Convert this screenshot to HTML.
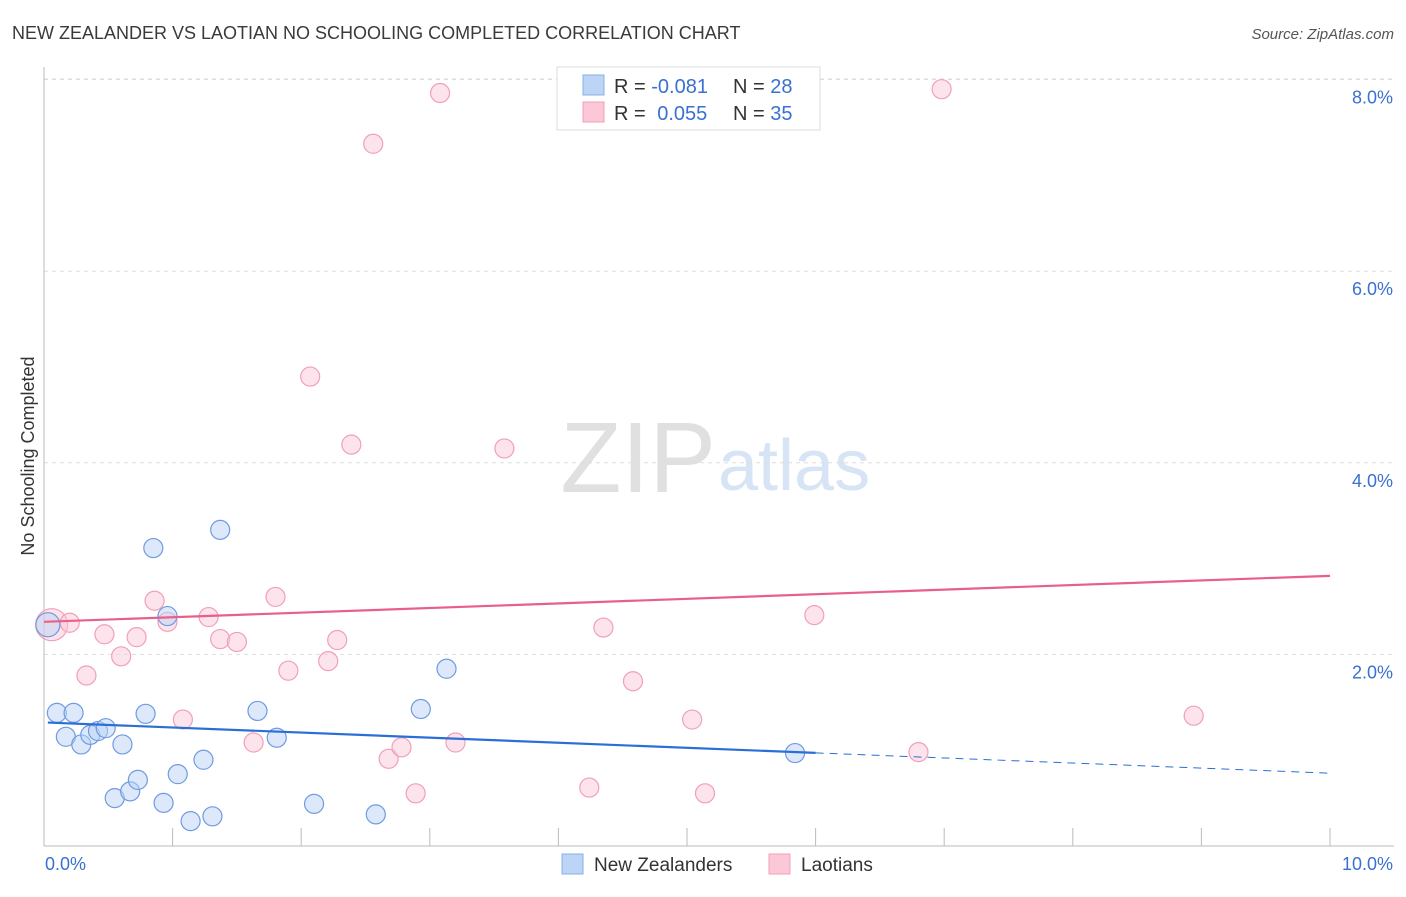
<!DOCTYPE html>
<html><head><meta charset="utf-8">
<style>
body{margin:0;background:#fff;font-family:"Liberation Sans",sans-serif;}
svg text{font-family:"Liberation Sans",sans-serif;}
</style></head>
<body>
<svg id="chart" width="1406" height="892">
<text x="12" y="39" font-size="18" fill="#3a3a3a">NEW ZEALANDER VS LAOTIAN NO SCHOOLING COMPLETED CORRELATION CHART</text>
<text x="1394" y="39" font-size="15" fill="#555" font-style="italic" text-anchor="end">Source: ZipAtlas.com</text>
<text x="716" y="492" font-size="100" fill="#e0e0e0" text-anchor="end" font-family="Liberation Serif">ZIP</text>
<text x="718" y="490" font-size="72" fill="#d6e4f5">atlas</text>
<text transform="translate(34,456) rotate(-90)" font-size="18" fill="#333" text-anchor="middle">No Schooling Completed</text>
<g id="grid"></g><g id="axes"></g><g id="marks"></g>
<g>
<rect x="557" y="67" width="263" height="63" fill="#fff" stroke="#ddd"/>
<rect x="583" y="75" width="21" height="20" fill="#bcd4f5" stroke="#88b0e8"/>
<rect x="583" y="102" width="21" height="20" fill="#fcc8d8" stroke="#f0a0b8"/>
<text x="614" y="93" font-size="20" fill="#333">R = <tspan fill="#3a70d0">-0.081</tspan></text>
<text x="733" y="93" font-size="20" fill="#333">N = <tspan fill="#3a70d0">28</tspan></text>
<text x="614" y="120" font-size="20" fill="#333">R = <tspan fill="#3a70d0" dx="6">0.055</tspan></text>
<text x="733" y="120" font-size="20" fill="#333">N = <tspan fill="#3a70d0">35</tspan></text>
</g>
<g>
<rect x="562" y="854" width="21" height="20" fill="#bcd4f5" stroke="#88b0e8"/>
<text x="594" y="871" font-size="19" fill="#333">New Zealanders</text>
<rect x="769" y="854" width="21" height="20" fill="#fcc8d8" stroke="#f0a0b8"/>
<text x="801" y="871" font-size="19" fill="#333">Laotians</text>
</g>
</svg>
<script>
const blueX=[0.03,0.10,0.23,0.17,0.29,0.36,0.42,0.48,0.61,0.55,0.67,0.73,0.79,0.85,0.93,0.96,1.04,1.14,1.24,1.31,1.37,1.66,1.81,2.10,2.58,2.93,3.13,5.84];
const blueY=[2.31,1.39,1.39,1.14,1.06,1.16,1.20,1.23,1.06,0.50,0.57,0.69,1.38,3.11,0.45,2.40,0.75,0.26,0.90,0.31,3.30,1.41,1.13,0.44,0.33,1.43,1.85,0.97];
const pinkX=[0.06,0.20,0.33,0.47,0.60,0.72,0.86,0.96,1.08,1.28,1.37,1.50,1.63,1.80,1.90,2.07,2.21,2.28,2.39,2.56,2.68,2.78,2.89,3.08,3.20,3.58,4.24,4.35,4.58,5.04,5.14,5.99,6.80,6.98,8.94];
const pinkY=[2.31,2.33,1.78,2.21,1.98,2.18,2.56,2.34,1.32,2.39,2.16,2.13,1.08,2.60,1.83,4.90,1.93,2.15,4.19,7.33,0.91,1.03,0.55,7.86,1.08,4.15,0.61,2.28,1.72,1.32,0.55,2.41,0.98,7.90,1.36];
const yTicks=[2,4,6,8];
const yTickLabels=["2.0%","4.0%","6.0%","8.0%"];
const xTicks=[0,1,2,3,4,5,6,7,8,9,10];
const blueTrend=[1.29,0.76];
const pinkTrend=[2.34,2.82];
const NS="http://www.w3.org/2000/svg";
const sx=v=>44+v*128.6, sy=v=>846-v*95.8;
function mk(parent,tag,attrs){const e=document.createElementNS(NS,tag);for(const k in attrs)e.setAttribute(k,attrs[k]);document.getElementById(parent).appendChild(e);return e;}
yTicks.forEach((t,i)=>{
 const g=mk('grid','line',{x1:44,x2:1394,y1:sy(t),y2:sy(t),stroke:'#ddd','stroke-dasharray':'4,4'});
 
 
 const l=mk('axes','text',{x:1393,y:sy(t)+24,'font-size':18,fill:'#3a70d0','text-anchor':'end'});
 l.textContent=yTickLabels[i];
 
 
});
const gl=mk('grid','line',{x1:44,x2:1394,y1:79,y2:79,stroke:'#ddd','stroke-dasharray':'4,4'});


const ya=mk('axes','line',{x1:44,x2:44,y1:67,y2:846,stroke:'#bbb'});


const xa=mk('axes','line',{x1:44,x2:1394,y1:846,y2:846,stroke:'#bbb'});


xTicks.forEach(t=>{
 const k=mk('axes','line',{x1:sx(t),x2:sx(t),y1:828,y2:846,stroke:'#bbb'});
 
 
});
const x0=mk('axes','text',{x:45,y:870,'font-size':18,fill:'#3a70d0'});x0.textContent="0.0%";


const x1=mk('axes','text',{x:1393,y:870,'font-size':18,fill:'#3a70d0','text-anchor':'end'});x1.textContent="10.0%";


function dots(X,Y,fill,stroke,name){X.forEach((x,i)=>{
 const r=i===0?(name==='laotian-point'?16:12):9.5;
 const c=mk('marks','circle',{cx:sx(x),cy:sy(Y[i]),r:r,fill:fill,'fill-opacity':0.5,stroke:stroke,'stroke-width':1.2});
 
 
});}
dots(pinkX,pinkY,'#fcc8d8','#f0a0b8','laotian-point');
dots(blueX,blueY,'#bcd4f5','#6f9be0','new-zealander-point');
const bAt=x=>blueTrend[0]+(blueTrend[1]-blueTrend[0])*x/10;
const b1=mk('marks','line',{x1:sx(0.03),y1:sy(bAt(0.03)),x2:sx(6.0),y2:sy(bAt(6.0)),stroke:'#2a6fd6','stroke-width':2.2});


const b2=mk('marks','line',{x1:sx(6.0),y1:sy(bAt(6.0)),x2:sx(10),y2:sy(bAt(10)),stroke:'#2a6fd6','stroke-width':1,'stroke-dasharray':'8,6'});


const p1=mk('marks','line',{x1:sx(0),y1:sy(pinkTrend[0]),x2:sx(10),y2:sy(pinkTrend[1]),stroke:'#e8608a','stroke-width':2.2});


</script>
</body></html>
